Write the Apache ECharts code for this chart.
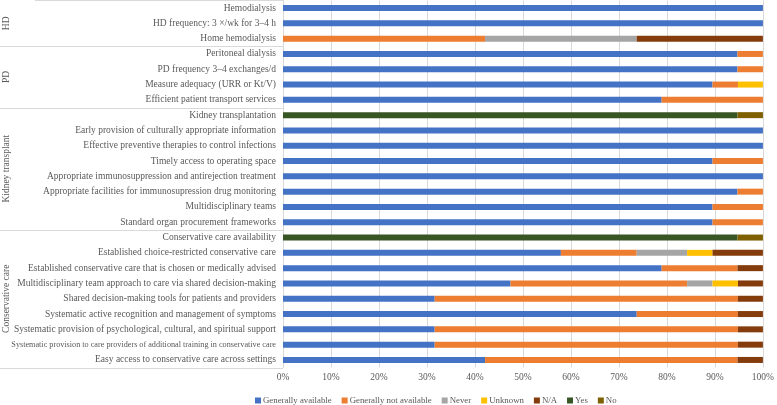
<!DOCTYPE html>
<html>
<head>
<meta charset="utf-8">
<script src="https://cdn.jsdelivr.net/npm/echarts@6/dist/echarts.min.js"></script>
<style>html,body{margin:0;padding:0;background:#fff}#c{width:777px;height:405px}</style>
</head>
<body>
<div id="c"></div>
<script>
const categories = [
  'Hemodialysis','HD frequency: 3 ×/wk for 3–4 h','Home hemodialysis',
  'Peritoneal dialysis','PD frequency 3–4 exchanges/d','Measure adequacy (URR or Kt/V)','Efficient patient transport services',
  'Kidney transplantation','Early provision of culturally appropriate information','Effective preventive therapies to control infections','Timely access to operating space','Appropriate immunosuppression and antirejection treatment','Appropriate facilities for immunosupression drug monitoring','Multidisciplinary teams','Standard organ procurement frameworks',
  'Conservative care availability','Established choice-restricted conservative care','Established conservative care that is chosen or medically advised','Multidisciplinary team approach to care via shared decision-making','Shared decision-making tools for patients and providers','Systematic active recognition and management of symptoms','Systematic provision of psychological, cultural, and spiritual support','Systematic provision to care providers of additional training in conservative care','Easy access to conservative care across settings'
];
const groups = [
  {name:'HD', from:0, to:2},
  {name:'PD', from:3, to:6},
  {name:'Kidney transplant', from:7, to:14},
  {name:'Conservative care', from:15, to:23}
];
const seriesNames = ['Generally available','Generally not available','Never','Unknown','N/A','Yes','No'];
const generallyAvailable    = [100,100,0, 94.7,94.7,89.5,78.9, 0,100,100,89.5,100,94.7,89.5,89.5, 0,57.9,78.9,47.4,31.6,73.7,31.6,31.6,42.1];
const generallyNotAvailable = [0,0,42.1, 5.3,5.3,5.3,21.1, 0,0,0,10.5,0,5.3,10.5,10.5, 0,15.8,15.8,36.8,63.2,21.1,63.2,63.2,52.6];
const never                 = [0,0,31.6, 0,0,0,0, 0,0,0,0,0,0,0,0, 0,10.5,0,5.3,0,0,0,0,0];
const unknown               = [0,0,0, 0,0,5.3,0, 0,0,0,0,0,0,0,0, 0,5.3,0,5.3,0,0,0,0,0];
const na                    = [0,0,26.3, 0,0,0,0, 0,0,0,0,0,0,0,0, 0,10.5,5.3,5.3,5.3,5.3,5.3,5.3,5.3];
const yes                   = [0,0,0, 0,0,0,0, 94.7,0,0,0,0,0,0,0, 94.7,0,0,0,0,0,0,0,0];
const no                    = [0,0,0, 0,0,0,0, 5.3,0,0,0,0,0,0,0, 5.3,0,0,0,0,0,0,0,0];
const xTicks = [0,10,20,30,40,50,60,70,80,90,100];

const colors = ['#4472C4','#ED7D31','#A5A5A5','#FFC000','#843C0C','#375623','#7F6000'];
const allData = [generallyAvailable, generallyNotAvailable, never, unknown, na, yes, no];
const FONT = 'Liberation Serif';
const TXT = '#595959';
const LINE = '#d9d9d9';

const chart = echarts.init(document.getElementById('c'), null, {renderer:'canvas'});
chart.setOption({
  animation:false,
  backgroundColor:'#fff',
  color: colors,
  grid:{left:283, right:11, top:0.4, bottom:37.4, containLabel:false},
  xAxis:{
    type:'value', min:xTicks[0], max:xTicks[xTicks.length-1], interval:10,
    axisLine:{show:false}, axisTick:{show:false},
    splitLine:{show:true, lineStyle:{color:LINE, width:1}},
    axisLabel:{formatter:'{value}%', color:TXT, fontFamily:FONT, fontSize:9.5, margin:5}
  },
  yAxis:{
    type:'category', data:categories, inverse:true,
    axisLine:{show:true, lineStyle:{color:LINE}}, axisTick:{show:false},
    axisLabel:{
      color:TXT, fontFamily:FONT, fontSize:9.5, margin:7, interval:0,
      formatter:(v, i)=> i===22 ? '{s|'+v+'}' : v,
      rich:{s:{fontSize:8.2, fontFamily:FONT, color:TXT}}
    }
  },
  legend:{
    data:seriesNames, left:250, top:391, icon:'rect', itemWidth:6, itemHeight:6, itemGap:10,
    textStyle:{color:TXT, fontFamily:FONT, fontSize:8.8, padding:[0,0,0,-3]}
  },
  series: seriesNames.map((n,k)=>({
    name:n, type:'bar', stack:'total', barWidth:6, data:allData[k],
    itemStyle:{color:colors[k]}
  }))
});

function drawGroups(){
  const yOf = i => chart.convertToPixel({yAxisIndex:0}, categories[i]);
  const half = (yOf(1)-yOf(0))/2;
  const axisX = chart.convertToPixel({xAxisIndex:0}, 0);
  const g = [];
  const topY = Math.round(yOf(0)-half)+0.5;
  g.push({type:'line', shape:{x1:35, y1:topY, x2:axisX, y2:topY}, style:{stroke:LINE, lineWidth:1}, silent:true});
  groups.forEach(gr=>{
    const yb = Math.round(yOf(gr.to)+half)+0.5;
    g.push({type:'line', shape:{x1:0, y1:yb, x2:axisX, y2:yb}, style:{stroke:LINE, lineWidth:1}, silent:true});
    const yc = (yOf(gr.from)+yOf(gr.to))/2;
    g.push({type:'text', x:6, y:yc, rotation:Math.PI/2,
      style:{text:gr.name, fill:TXT, font:'9.5px "Liberation Serif"', align:'center', verticalAlign:'middle'}, silent:true});
  });
  chart.setOption({graphic:g});
}
drawGroups();
</script>
</body>
</html>
